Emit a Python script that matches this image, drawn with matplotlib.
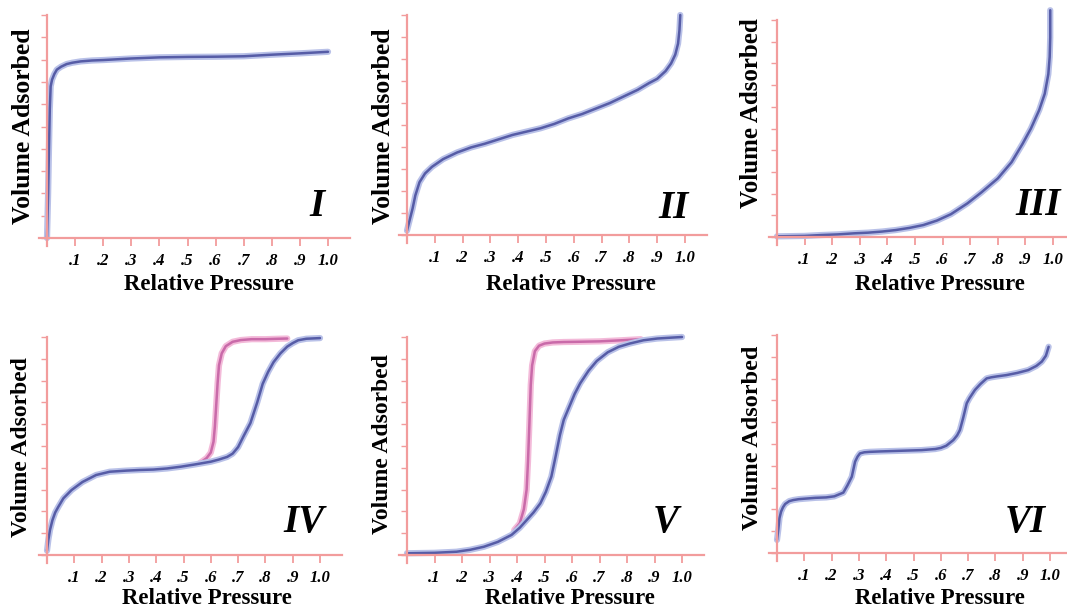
import matplotlib
matplotlib.use("Agg")
import matplotlib.pyplot as plt

# ---- isotherm data (relative pressure, volume in tick units) ----
type1_p = [0, 0.004, 0.007, 0.01, 0.013, 0.018, 0.026, 0.035, 0.05, 0.07, 0.09, 0.12, 0.16,
           0.2, 0.3, 0.4, 0.5, 0.6, 0.7, 0.8, 0.9, 1.0]
type1_v = [0, 2.0, 4.0, 5.8, 6.8, 7.1, 7.35, 7.55, 7.68, 7.8, 7.86, 7.92, 7.96,
           7.98, 8.05, 8.1, 8.12, 8.13, 8.15, 8.22, 8.28, 8.35]

type2_p = [0, 0.01, 0.02, 0.03, 0.045, 0.065, 0.09, 0.13, 0.18, 0.23, 0.28, 0.33, 0.38, 0.43,
           0.48, 0.53, 0.58, 0.63, 0.68, 0.73, 0.78, 0.83, 0.87, 0.9, 0.93, 0.95, 0.965,
           0.975, 0.98, 0.983]
type2_v = [0.2, 0.7, 1.2, 1.8, 2.4, 2.8, 3.1, 3.45, 3.75, 3.98, 4.15, 4.35, 4.55, 4.7,
           4.85, 5.05, 5.3, 5.5, 5.75, 6.0, 6.3, 6.6, 6.9, 7.1, 7.45, 7.8, 8.2,
           8.7, 9.3, 10.0]

type3_p = [0, 0.1, 0.16, 0.22, 0.28, 0.33, 0.38, 0.43, 0.48, 0.53, 0.58, 0.63, 0.69, 0.74,
           0.8, 0.85, 0.89, 0.92, 0.95, 0.97, 0.983, 0.988, 0.99, 0.99]
type3_v = [0.03, 0.05, 0.09, 0.12, 0.17, 0.2, 0.25, 0.32, 0.42, 0.55, 0.76, 1.05, 1.55, 2.05,
           2.7, 3.45, 4.3, 5.0, 5.85, 6.6, 7.5, 8.3, 9.2, 10.45]

type4_ads_p = [0, 0.005, 0.011, 0.02, 0.03, 0.041, 0.06, 0.09, 0.13, 0.18, 0.23, 0.29, 0.34,
               0.39, 0.44, 0.49, 0.54, 0.6, 0.63, 0.66, 0.68, 0.7, 0.72, 0.745, 0.77, 0.79,
               0.81, 0.83, 0.855, 0.88, 0.9, 0.92, 0.95, 1.0]
type4_ads_v = [0.2, 0.7, 1.15, 1.6, 1.95, 2.2, 2.6, 2.98, 3.35, 3.67, 3.82, 3.87, 3.9,
               3.92, 3.97, 4.05, 4.15, 4.28, 4.38, 4.5, 4.65, 4.95, 5.45, 6.05, 7.0, 7.85,
               8.4, 8.85, 9.25, 9.56, 9.72, 9.85, 9.92, 9.95]
type4_des_p = [0.56, 0.585, 0.6, 0.61, 0.615, 0.62, 0.625, 0.63, 0.64, 0.655, 0.68, 0.71,
               0.75, 0.8, 0.85, 0.88]
type4_des_v = [4.22, 4.45, 4.7, 5.2, 5.9, 6.9, 7.9, 8.7, 9.25, 9.58, 9.78, 9.86,
               9.9, 9.9, 9.92, 9.93]

type5_ads_p = [0, 0.1, 0.18, 0.23, 0.28, 0.33, 0.38, 0.41, 0.435, 0.46, 0.485, 0.505, 0.525,
               0.54, 0.556, 0.57, 0.59, 0.61, 0.63, 0.66, 0.69, 0.73, 0.77, 0.81, 0.86,
               0.91, 0.96, 1.0]
type5_ads_v = [0.08, 0.1, 0.15, 0.24, 0.38, 0.6, 0.92, 1.25, 1.6, 1.95, 2.37, 2.9, 3.6,
               4.5, 5.5, 6.2, 6.8, 7.4, 7.88, 8.45, 8.9, 9.3, 9.55, 9.7, 9.85,
               9.93, 9.97, 10.0]
type5_des_p = [0.39, 0.41, 0.425, 0.435, 0.44, 0.445, 0.45, 0.455, 0.465, 0.48, 0.5, 0.53,
               0.57, 0.62, 0.7, 0.78, 0.85]
type5_des_v = [1.15, 1.45, 2.1, 3.0, 4.3, 6.0, 7.8, 8.7, 9.35, 9.6, 9.7, 9.75,
               9.77, 9.78, 9.8, 9.85, 9.9]

type6_p = [0, 0.005, 0.009, 0.015, 0.022, 0.03, 0.045, 0.06, 0.08, 0.11, 0.14, 0.18, 0.21,
           0.243, 0.258, 0.274, 0.286, 0.295, 0.304, 0.32, 0.34, 0.38, 0.43, 0.48, 0.53,
           0.58, 0.6, 0.62, 0.646, 0.66, 0.67, 0.682, 0.695, 0.705, 0.725, 0.745, 0.768,
           0.785, 0.805, 0.84, 0.88, 0.92, 0.95, 0.97, 0.985, 0.995]
type6_v = [0.6, 1.1, 1.6, 1.9, 2.1, 2.25, 2.38, 2.43, 2.47, 2.5, 2.53, 2.55, 2.6,
           2.77, 3.1, 3.5, 4.19, 4.42, 4.57, 4.62, 4.64, 4.66, 4.68, 4.7, 4.72,
           4.77, 4.82, 4.92, 5.18, 5.4, 5.64, 6.2, 6.87, 7.1, 7.48, 7.75, 8.01,
           8.06, 8.1, 8.16, 8.26, 8.39, 8.58, 8.78, 9.05, 9.46]

pressure_ticks = [0, 0.1, 0.2, 0.3, 0.4, 0.5, 0.6, 0.7, 0.8, 0.9, 1.0]
pressure_labels = ["", ".1", ".2", ".3", ".4", ".5", ".6", ".7", ".8", ".9", "1.0"]
volume_ticks = list(range(0, 11))
numerals = ["I", "II", "III", "IV", "V", "VI"]

# ---- layout (pixels of the 1067x612 picture) ----
W, H = 1067, 612
AXIS = "#f29c9c"
BLUE, BLUE_HALO = "#565ca6", "#b9c1e8"
PINK, PINK_HALO = "#c96aa9", "#f3bad9"
SERIF = "Liberation Serif"

# origin x, origin y, px per unit pressure, px per volume tick
frames = [(47, 238, 281, 22.3), (407, 235, 278, 22.0), (777, 237, 276, 21.7),
          (47, 555, 273, 21.8), (407, 555, 275, 21.8), (777, 553, 273, 21.8)]
numeral_pos = [(0.96, 1.0, "center"), (0.96, 0.77, "center"), (0.865, 1.0, "left"),
               (0.94, 1.05, "center"), (0.94, 1.05, "center"), (0.91, 0.96, "center")]
ylabel_pos = [(24, 126, 18.5), (383, 126, 18.5), (752, 113, 18.0),
              (22, 447, 17.0), (382, 444, 17.0), (753, 438, 17.5)]
xlabel_pos = [(209, 285), (571, 285), (940, 285), (207, 598), (570, 599), (940, 599)]

curves = [
    [(type1_p, type1_v, BLUE, BLUE_HALO)],
    [(type2_p, type2_v, BLUE, BLUE_HALO)],
    [(type3_p, type3_v, BLUE, BLUE_HALO)],
    [(type4_des_p, type4_des_v, PINK, PINK_HALO), (type4_ads_p, type4_ads_v, BLUE, BLUE_HALO)],
    [(type5_des_p, type5_des_v, PINK, PINK_HALO), (type5_ads_p, type5_ads_v, BLUE, BLUE_HALO)],
    [(type6_p, type6_v, BLUE, BLUE_HALO)],
]

fig = plt.figure(figsize=(W / 100, H / 100), dpi=100)
fig.patch.set_facecolor("white")

x0, x1 = -0.05, 1.12
y0, y1 = -0.5, 10.8

for i, (ox, oy, sx, sy) in enumerate(frames):
    left = (ox + x0 * sx) / W
    width = (x1 - x0) * sx / W
    bottom = 1 - (oy - y0 * sy) / H
    height = (y1 - y0) * sy / H
    ax = fig.add_axes([left, bottom, width, height])
    ax.set_xlim(x0, x1)
    ax.set_ylim(y0, y1)
    ax.patch.set_alpha(0)

    for side in ["top", "right"]:
        ax.spines[side].set_visible(False)
    ax.spines["left"].set_position(("data", 0))
    ax.spines["bottom"].set_position(("data", 0))
    ax.spines["left"].set_bounds(-0.35, 10)
    ax.spines["bottom"].set_bounds(-0.03, 1.08 if i != 2 else 1.12)
    for side in ["left", "bottom"]:
        ax.spines[side].set_color(AXIS)
        ax.spines[side].set_linewidth(1.6)

    ax.set_xticks(pressure_ticks)
    ax.set_xticklabels(pressure_labels)
    ax.set_yticks(volume_ticks)
    ax.set_yticklabels([])
    ax.tick_params(axis="x", direction="out", length=6, width=1.3, color=AXIS, pad=5)
    ax.tick_params(axis="y", direction="out", length=4, width=1.0, color=AXIS)
    for lab in ax.get_xticklabels():
        lab.set_fontfamily(SERIF)
        lab.set_fontweight("bold")
        lab.set_fontstyle("italic")
        lab.set_fontsize(12)

    for p, v, core, halo in curves[i]:
        ax.plot(p, v, color=halo, lw=4.5, solid_capstyle="round", solid_joinstyle="round",
                clip_on=False)
        ax.plot(p, v, color=core, lw=1.8, solid_capstyle="round", solid_joinstyle="round",
                clip_on=False)

    nx, ny, ha = numeral_pos[i]
    ax.text(nx, ny, numerals[i], fontsize=28, fontweight="bold", fontstyle="italic",
            family=SERIF, ha=ha, va="baseline")

    lx, ly, ls = ylabel_pos[i]
    fig.text(lx / W, 1 - ly / H, "Volume Adsorbed", rotation=90, ha="center", va="center",
             fontsize=ls, fontweight="bold", family=SERIF)
    px, py = xlabel_pos[i]
    fig.text(px / W, 1 - py / H, "Relative Pressure", ha="center", va="center",
             fontsize=16.5, fontweight="bold", family=SERIF)

fig.savefig("out.png", dpi=100)
